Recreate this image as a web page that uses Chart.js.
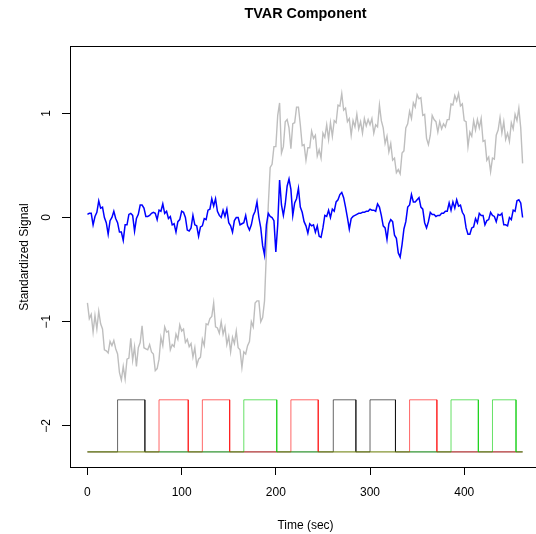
<!DOCTYPE html>
<html>
<head>
<meta charset="utf-8">
<script src="https://cdn.jsdelivr.net/npm/chart.js@4.4.1/dist/chart.umd.min.js"></script>
<style>
  html, body { margin: 0; padding: 0; background: #ffffff; overflow: hidden; width: 536px; height: 534px; }
  canvas { display: block; }
</style>
</head>
<body>
<canvas id="c" width="541" height="534"></canvas>
<script>
// ---- data ----
const sampleStepSec = 2; // one value every 2 s, starting at t = 0
const tvarGray = [
 -0.82,-0.97,-0.93,-1.10,-0.94,-1.07,-0.90,-1.02,-1.07,-1.27,
 -1.28,-1.30,-1.19,-1.23,-1.18,-1.26,-1.31,-1.49,-1.56,-1.43,
 -1.55,-1.36,-1.35,-1.16,-1.37,-1.24,-1.43,-1.25,-1.20,-1.04,
 -1.25,-1.26,-1.27,-1.22,-1.29,-1.31,-1.47,-1.45,-1.36,-1.15,
 -1.23,-1.05,-1.10,-1.09,-1.27,-1.22,-1.24,-1.12,-1.17,-1.03,
 -1.09,-1.07,-1.20,-1.17,-1.24,-1.21,-1.34,-1.25,-1.42,-1.36,
 -1.34,-1.17,-1.23,-1.02,-1.03,-0.97,-0.95,-0.82,-1.05,-1.06,
 -1.11,-1.00,-1.12,-1.05,-1.22,-1.14,-1.29,-1.15,-1.21,-1.09,
 -1.25,-1.27,-1.44,-1.29,-1.31,-1.23,-1.19,-1.00,-1.05,-0.82,
 -0.80,-0.80,-1.00,-0.96,-0.80,-0.33, 0.12, 0.48, 0.51, 0.68,
  0.68, 0.98, 1.10, 0.62, 0.68, 0.92, 0.94, 0.86, 0.66, 0.90,
  0.91, 1.06, 1.06, 0.89, 0.69, 0.70, 0.55, 0.67, 0.67, 0.83,
  0.76, 0.79, 0.59, 0.65, 0.57, 0.81, 0.77, 0.89, 0.75, 0.91,
  0.78, 0.93, 0.91, 1.08, 1.07, 1.19, 1.03, 1.05, 0.92, 0.95,
  0.79, 0.93, 0.87, 0.99, 0.85, 0.92, 0.81, 0.95, 0.88, 0.94,
  0.89, 0.95, 0.81, 0.89, 0.87, 1.08, 0.93, 0.86, 0.71, 0.78,
  0.63, 0.71, 0.55, 0.57, 0.43, 0.46, 0.42, 0.62, 0.64, 0.86,
  0.90, 1.02, 0.95, 1.10, 1.06, 1.18, 1.14, 1.15, 0.98, 0.99,
  0.76, 0.70, 0.79, 0.98, 0.94, 0.92, 0.82, 0.92, 0.85, 0.90,
  0.87, 0.94, 0.94, 1.09, 1.08, 1.17, 1.12, 1.19, 1.07, 1.09,
  0.93, 0.92, 0.68, 0.82, 0.78, 0.93, 0.84, 0.94, 0.86, 0.95,
  0.73, 0.74, 0.55, 0.58, 0.44, 0.57, 0.56, 0.79, 0.84, 0.96,
  0.81, 0.92, 0.75, 0.81, 0.73, 0.91, 0.85, 0.99, 0.93, 1.05,
  0.86, 0.52
];
const tvarBlue = [
  0.03, 0.04, 0.04,-0.07, 0.01, 0.05, 0.16, 0.09, 0.10, 0.00,
 -0.05,-0.16,-0.03, 0.00, 0.06,-0.01,-0.05,-0.14,-0.14,-0.22,
 -0.07,-0.07, 0.03, 0.04, 0.02,-0.13,-0.01, 0.03, 0.12, 0.12,
  0.09, 0.01, 0.01, 0.02, 0.04, 0.05, 0.04,-0.02, 0.07, 0.06,
  0.13, 0.04, 0.06,-0.01, 0.01,-0.07,-0.06,-0.14,-0.04,-0.02,
  0.06, 0.05, 0.00,-0.12,-0.13,-0.10, 0.02,-0.07,-0.08,-0.18,
 -0.09,-0.08,-0.01,-0.02, 0.07, 0.08, 0.18, 0.11, 0.18, 0.06,
  0.02, 0.00, 0.07, 0.01, 0.08,-0.05,-0.08,-0.14,-0.03, 0.00,
  0.00,-0.07,-0.06,-0.05, 0.02,-0.08,-0.12,-0.07, 0.02, 0.06,
  0.15, 0.00,-0.10,-0.27,-0.36,-0.07, 0.04, 0.01, 0.00,-0.03,
 -0.33,-0.07, 0.36, 0.12, 0.02, 0.13, 0.30, 0.37, 0.27, 0.02,
  0.14, 0.18, 0.28, 0.10, 0.05,-0.04,-0.08,-0.15,-0.06,-0.08,
 -0.07,-0.14,-0.08,-0.18,-0.19,-0.10, 0.02, 0.01, 0.07, 0.00,
  0.08, 0.06, 0.15, 0.17, 0.22, 0.24, 0.19, 0.10, 0.00,-0.11,
 -0.01, 0.01, 0.02, 0.03, 0.04, 0.04, 0.05, 0.05, 0.06, 0.06,
  0.08, 0.07, 0.07, 0.06, 0.13, 0.10, 0.02,-0.08,-0.10,-0.21,
 -0.06,-0.02,-0.04,-0.17,-0.20,-0.34,-0.38,-0.26,-0.11,-0.04,
  0.10, 0.12, 0.22, 0.15, 0.15, 0.17, 0.19, 0.10, 0.08,-0.05,
 -0.10,-0.04, 0.05, 0.03, 0.03, 0.01, 0.02, 0.02, 0.04, 0.04,
  0.06, 0.06, 0.14, 0.07, 0.15, 0.09, 0.17, 0.11, 0.12, 0.05,
  0.02,-0.10,-0.16,-0.16,-0.10,-0.09,-0.01,-0.05, 0.04, 0.02,
  0.02,-0.07,-0.03,-0.02, 0.05, 0.02, 0.01,-0.04, 0.03, 0.02,
  0.04,-0.07,-0.07,-0.08, 0.00,-0.02, 0.07, 0.06, 0.16, 0.17,
  0.14, 0.00
];
// stimulus blocks (onset / offset, seconds)
const blackOn  = [32, 261, 300];
const blackOff = [61, 285, 327];
const redOn    = [76, 122, 216, 342];
const redOff   = [107, 151, 245, 371];
const greenOn  = [166, 386, 430];
const greenOff = [201, 415, 455];
const stimOff = -2.25, stimOnLevel = -1.75, stimEnd = 462;
const xTickValues = [0, 100, 200, 300, 400];
const yTickValues = [-2, -1, 0, 1];

// ---- build chart data ----
const toPoints = arr => arr.map((v, i) => ({ x: i * sampleStepSec, y: v }));
function stepPoints(ons, offs) {
  const pts = [{ x: 0, y: stimOff }];
  ons.forEach((on, i) => {
    pts.push({ x: on, y: stimOff }, { x: on, y: stimOnLevel },
             { x: offs[i], y: stimOnLevel }, { x: offs[i], y: stimOff });
  });
  pts.push({ x: stimEnd, y: stimOff });
  return pts;
}
const lineDs = (data, color, w) => ({
  data, borderColor: color, borderWidth: w, pointRadius: 0, tension: 0, fill: false
});

const FONT = "'Liberation Sans', Arial, Helvetica, sans-serif";
const minus = v => (v < 0 ? '\u2212' + Math.abs(v) : String(v));

new Chart(document.getElementById('c'), {
  type: 'line',
  data: {
    datasets: [
      lineDs(stepPoints(greenOn, greenOff), 'rgba(0,205,0,0.6)', 1),
      lineDs(stepPoints(redOn, redOff), 'rgba(255,0,0,0.6)', 1),
      lineDs(stepPoints(blackOn, blackOff), 'rgba(0,0,0,0.6)', 1),
      lineDs(toPoints(tvarBlue), '#0000ff', 1.5),
      lineDs(toPoints(tvarGray), '#bebebe', 1.4)
    ]
  },
  options: {
    responsive: false,
    animation: false,
    devicePixelRatio: 1,
    layout: { padding: 0 },
    plugins: {
      legend: { display: false },
      tooltip: { enabled: false },
      title: {
        display: true, text: 'TVAR Component', fullSize: false,
        color: '#000', font: { family: FONT, size: 14.4, weight: 'bold', lineHeight: 1.2 },
        padding: { top: 5.4, bottom: 24.3 }
      }
    },
    scales: {
      x: {
        type: 'linear', position: 'bottom', min: -18.52, max: 481.52,
        afterBuildTicks: s => { s.ticks = xTickValues.map(v => ({ value: v })); },
        afterFit: s => { s.height = 67; },
        grid: { drawOnChartArea: false, drawTicks: true, tickLength: 8, color: '#000', tickColor: '#000', lineWidth: 1 },
        border: { display: true, color: '#000', width: 1 },
        ticks: { color: '#000', font: { family: FONT, size: 12 }, padding: 10, maxRotation: 0, autoSkip: false,
                 callback: v => minus(v) },
        title: { display: true, text: 'Time (sec)', color: '#000', font: { family: FONT, size: 12 },
                 padding: { top: 0, bottom: 1.5 } }
      },
      xTop: {
        type: 'linear', position: 'top', min: -18.52, max: 481.52,
        afterFit: s => { s.height = 0; },
        grid: { display: false, drawTicks: false },
        border: { display: true, color: '#000', width: 1 },
        ticks: { display: false }
      },
      y: {
        type: 'linear', position: 'left', min: -2.395, max: 1.637,
        afterBuildTicks: s => { s.ticks = yTickValues.map(v => ({ value: v })); },
        afterFit: s => { s.width = 70; },
        grid: { drawOnChartArea: false, drawTicks: true, tickLength: 8, color: '#000', tickColor: '#000', lineWidth: 1 },
        border: { display: true, color: '#000', width: 1 },
        ticks: { color: '#000', font: { family: FONT, size: 12 }, padding: 8, minRotation: 90, maxRotation: 90,
                 crossAlign: 'center', autoSkip: false, callback: v => minus(v) },
        title: { display: true, text: 'Standardized Signal', color: '#000', font: { family: FONT, size: 12 },
                 padding: { top: 17.8, bottom: 0 } }
      }
    }
  }
});
</script>
</body>
</html>
